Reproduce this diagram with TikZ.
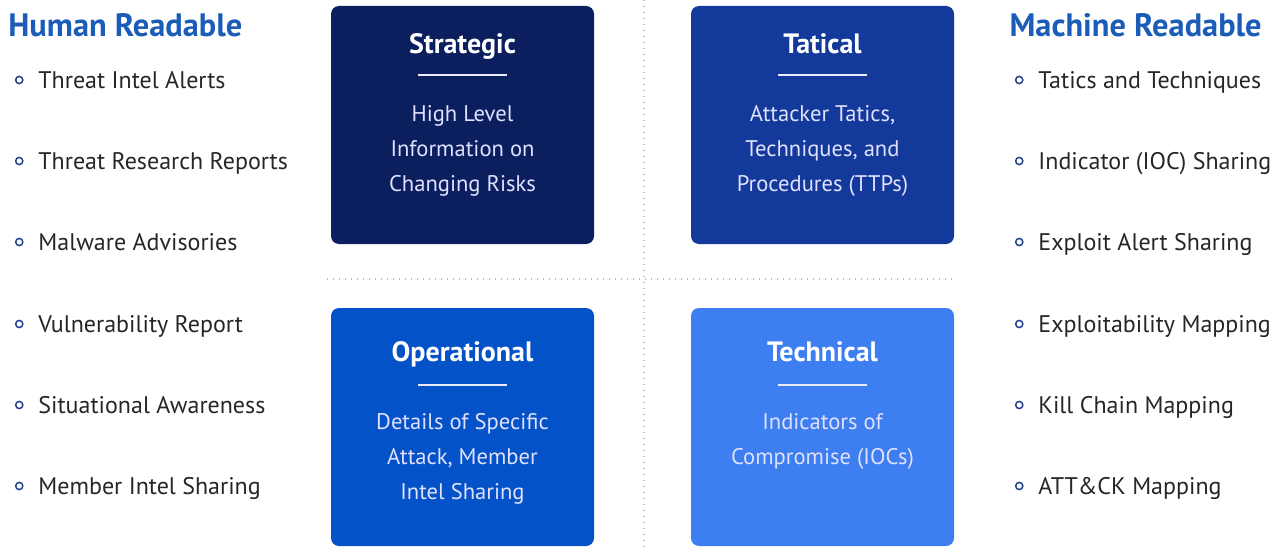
\documentclass[tikz,border=0pt]{standalone}
\usepackage{fontspec}
\setmainfont{PT Sans}
\usepackage{tikz}
\usetikzlibrary{positioning,calc}

\definecolor{headblue}{HTML}{1B5CB8}
\definecolor{dotblue}{HTML}{23408E}
\definecolor{itemgray}{HTML}{262626}
\definecolor{stratblue}{HTML}{0B1F5F}
\definecolor{tactblue}{HTML}{13399A}
\definecolor{operblue}{HTML}{0452C8}
\definecolor{techblue}{HTML}{3D7EF0}

\begin{document}
\begin{tikzpicture}[
    x=0.5pt, y=-0.5pt,
    every node/.style={font=\fontsize{12}{14}\selectfont},
    quad/.style={rectangle, rounded corners=4pt, minimum width=131.5pt,
                 minimum height=119pt, inner sep=0pt},
    quadtitle/.style={text=white, inner sep=0pt, text height=9.8pt, text depth=0pt,
                      font=\bfseries\fontsize{14}{16}\selectfont},
    quadtext/.style={text=white!88!blue, align=center, anchor=north, inner sep=0pt,
                     font=\fontsize{11.3}{17.5}\selectfont},
    rule/.style={white!92!blue, line width=1pt},
    heading/.style={text=headblue, inner sep=0pt, text height=11.4pt, text depth=0pt,
                    font=\bfseries\fontsize{16.2}{18}\selectfont},
    dot/.style={circle, draw=dotblue, line width=0.75pt, inner sep=0pt, minimum size=3.6pt},
    item/.style={anchor=west, inner sep=0pt, text=itemgray, text height=8.4pt,
                 text depth=0pt, label={[dot, xshift=-7.2pt]left:{}}},
    divider/.style={gray!55, line width=0.6pt, dash pattern=on 0.6pt off 2.4pt}
]
\useasboundingbox (0,0) rectangle (1275,551);

% Linii punctate
\coordinate (vtop) at (644,0);
\coordinate (vbot) at (644,551);
\coordinate (hleft) at (327,279);
\coordinate (hright) at (955,279);
\draw[divider] (vtop) -- (vbot);
\draw[divider] (hleft) -- (hright);

% Coloana stanga
\node[heading, anchor=west] (human) at (8,25) {Human Readable};
\node[item] (h1) at (38,80) {Threat Intel Alerts};
\node[item] (h2) at (38,161) {Threat Research Reports};
\node[item] (h3) at (38,242) {Malware Advisories};
\node[item] (h4) at (38,324) {Vulnerability Report};
\node[item] (h5) at (38,405) {Situational Awareness};
\node[item] (h6) at (38,486) {Member Intel Sharing};

% Coloana dreapta
\node[heading, anchor=east] (machine) at (1262,25) {Machine Readable};
\node[item] (m1) at (1038,80) {Tatics and Techniques};
\node[item] (m2) at (1038,161) {Indicator (IOC) Sharing};
\node[item] (m3) at (1038,242) {Exploit Alert Sharing};
\node[item] (m4) at (1038,324) {Exploitability Mapping};
\node[item] (m5) at (1038,405) {Kill Chain Mapping};
\node[item] (m6) at (1038,486) {ATT\&CK Mapping};

% Cele patru cadrane
\node[quad, fill=stratblue] (strat) at (462.5,125) {};
\node[quad, fill=tactblue] (tact) at (822.5,125) {};
\node[quad, fill=operblue] (oper) at (462.5,427) {};
\node[quad, fill=techblue] (tech) at (822.5,427) {};

% Strategic
\node[quadtitle] (strat-t) at ($(strat.north)+(0,38)$) {Strategic};
\draw[rule] ($(strat.north)+(-44.5,69)$) -- ($(strat.north)+(44.5,69)$);
\node[quadtext] (strat-b) at ($(strat.north)+(0,99)$) {High Level\\Information on\\Changing Risks};

% Tatical
\node[quadtitle] (tact-t) at ($(tact.north)+(0,38)$) {Tatical};
\draw[rule] ($(tact.north)+(-44.5,69)$) -- ($(tact.north)+(44.5,69)$);
\node[quadtext] (tact-b) at ($(tact.north)+(0,99)$) {Attacker Tatics,\\Techniques, and\\Procedures (TTPs)};

% Operational
\node[quadtitle] (oper-t) at ($(oper.north)+(0,44)$) {Operational};
\draw[rule] ($(oper.north)+(-44.5,77)$) -- ($(oper.north)+(44.5,77)$);
\node[quadtext] (oper-b) at ($(oper.north)+(0,105)$) {Details of Specific\\Attack, Member\\Intel Sharing};

% Technical
\node[quadtitle] (tech-t) at ($(tech.north)+(0,44)$) {Technical};
\draw[rule] ($(tech.north)+(-44.5,77)$) -- ($(tech.north)+(44.5,77)$);
\node[quadtext] (tech-b) at ($(tech.north)+(0,105)$) {Indicators of\\Compromise (IOCs)};
\end{tikzpicture}
\end{document}
